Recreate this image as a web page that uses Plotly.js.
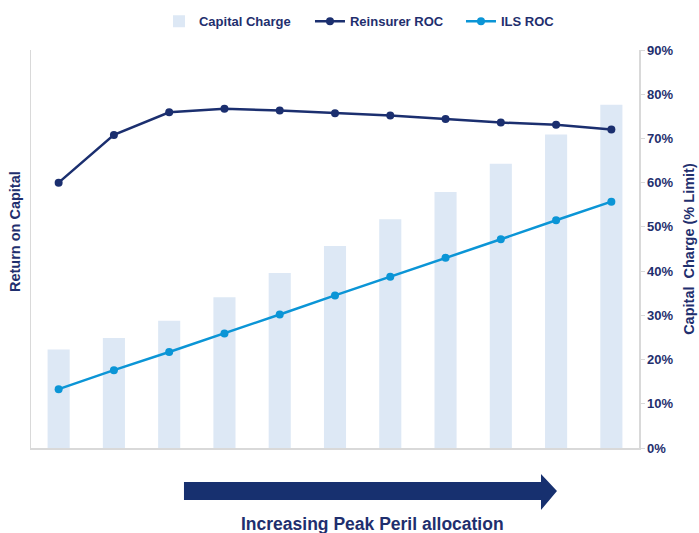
<!DOCTYPE html>
<html>
<head>
<meta charset="utf-8">
<script src="https://cdn.plot.ly/plotly-3.0.1.min.js"></script>
<style>html,body{margin:0;padding:0;background:#fff;}#chart{width:699px;height:533px;}</style>
</head>
<body>
<div id="chart"></div>
<script>
// Data
const categories = [1, 2, 3, 4, 5, 6, 7, 8, 9, 10, 11];
const capitalCharge = [22.3, 24.9, 28.8, 34.1, 39.6, 45.7, 51.7, 57.9, 64.3, 70.9, 77.6];
const reinsurerROC = [60.0, 70.8, 75.9, 76.7, 76.3, 75.7, 75.2, 74.4, 73.6, 73.1, 72.0];
const ilsROC = [13.3, 17.6, 21.7, 25.9, 30.2, 34.5, 38.7, 43.0, 47.2, 51.5, 55.7];
const rightTickVals = [0, 10, 20, 30, 40, 50, 60, 70, 80, 90];
const rightTickText = ['0%', '10%', '20%', '30%', '40%', '50%', '60%', '70%', '80%', '90%'];

const navy = '#1f2f6e';
const textFont = {family: 'Arial, "Liberation Sans", sans-serif', color: navy, size: 13, weight: 700};
const titleFont = Object.assign({}, textFont, {size: 14.5});

const traces = [
  {
    type: 'bar', name: 'Capital Charge', x: categories, y: capitalCharge,
    yaxis: 'y', marker: {color: '#dde8f5'}, width: 0.4, hoverinfo: 'y'
  },
  {
    type: 'scatter', mode: 'lines+markers', name: 'Reinsurer ROC', x: categories, y: reinsurerROC,
    yaxis: 'y2', line: {color: '#1b2f6f', width: 2.5}, marker: {color: '#1b2f6f', size: 8}
  },
  {
    type: 'scatter', mode: 'lines+markers', name: 'ILS ROC', x: categories, y: ilsROC,
    yaxis: 'y2', line: {color: '#0b95d6', width: 2.5}, marker: {color: '#0b95d6', size: 8}
  }
];

const layout = {
  width: 699, height: 533,
  margin: {l: 31, r: 60, t: 50, b: 85, autoexpand: false},
  paper_bgcolor: '#ffffff', plot_bgcolor: '#ffffff',
  font: textFont,
  showlegend: true,
  legend: {
    orientation: 'h', x: 0.2105, xanchor: 'left', y: 1.072, yanchor: 'middle',
    font: textFont, traceorder: 'normal', itemwidth: 30, entrywidth: 106
  },
  xaxis: {
    range: [0.5, 11.5], showticklabels: false, ticks: '', showgrid: false, zeroline: false,
    showline: true, linecolor: '#d9d9d9', linewidth: 1.5, fixedrange: true
  },
  yaxis: {
    range: [0, 90], side: 'right', tickvals: rightTickVals, ticktext: rightTickText,
    ticks: 'outside', ticklen: 4, tickcolor: '#d9d9d9', automargin: false,
    showgrid: false, zeroline: false, showline: true, linecolor: '#d9d9d9', linewidth: 1.5,
    tickfont: textFont
  },
  yaxis2: {
    range: [0, 90], overlaying: 'y', side: 'left', showticklabels: false, ticks: '',
    showgrid: false, zeroline: false, showline: true, linecolor: '#d9d9d9', linewidth: 1.5
  },
  annotations: [
    {text: 'Return on Capital', xref: 'paper', yref: 'paper', x: -0.026, y: 0.543,
     textangle: -90, showarrow: false, font: titleFont, xanchor: 'center', yanchor: 'middle'},
    {text: 'Capital  Charge (% Limit)', xref: 'paper', yref: 'paper', x: 1.082, y: 0.5,
     textangle: -90, showarrow: false, font: titleFont, xanchor: 'center', yanchor: 'middle'},
    {text: 'Increasing Peak Peril allocation', xref: 'paper', yref: 'paper', x: 0.561, y: -0.191,
     showarrow: false, font: Object.assign({}, textFont, {size: 17.5}), xanchor: 'center', yanchor: 'middle'}
  ],
  shapes: [
    {type: 'path', xref: 'paper', yref: 'paper',
     path: 'M 0.2516 -0.0854 L 0.8388 -0.0854 L 0.8388 -0.0653 L 0.8651 -0.108 L 0.8388 -0.1558 L 0.8388 -0.1307 L 0.2516 -0.1307 Z',
     fillcolor: '#17306f', line: {width: 0}}
  ]
};

Plotly.newPlot('chart', traces, layout, {displayModeBar: false, staticPlot: true});
</script>
</body>
</html>
